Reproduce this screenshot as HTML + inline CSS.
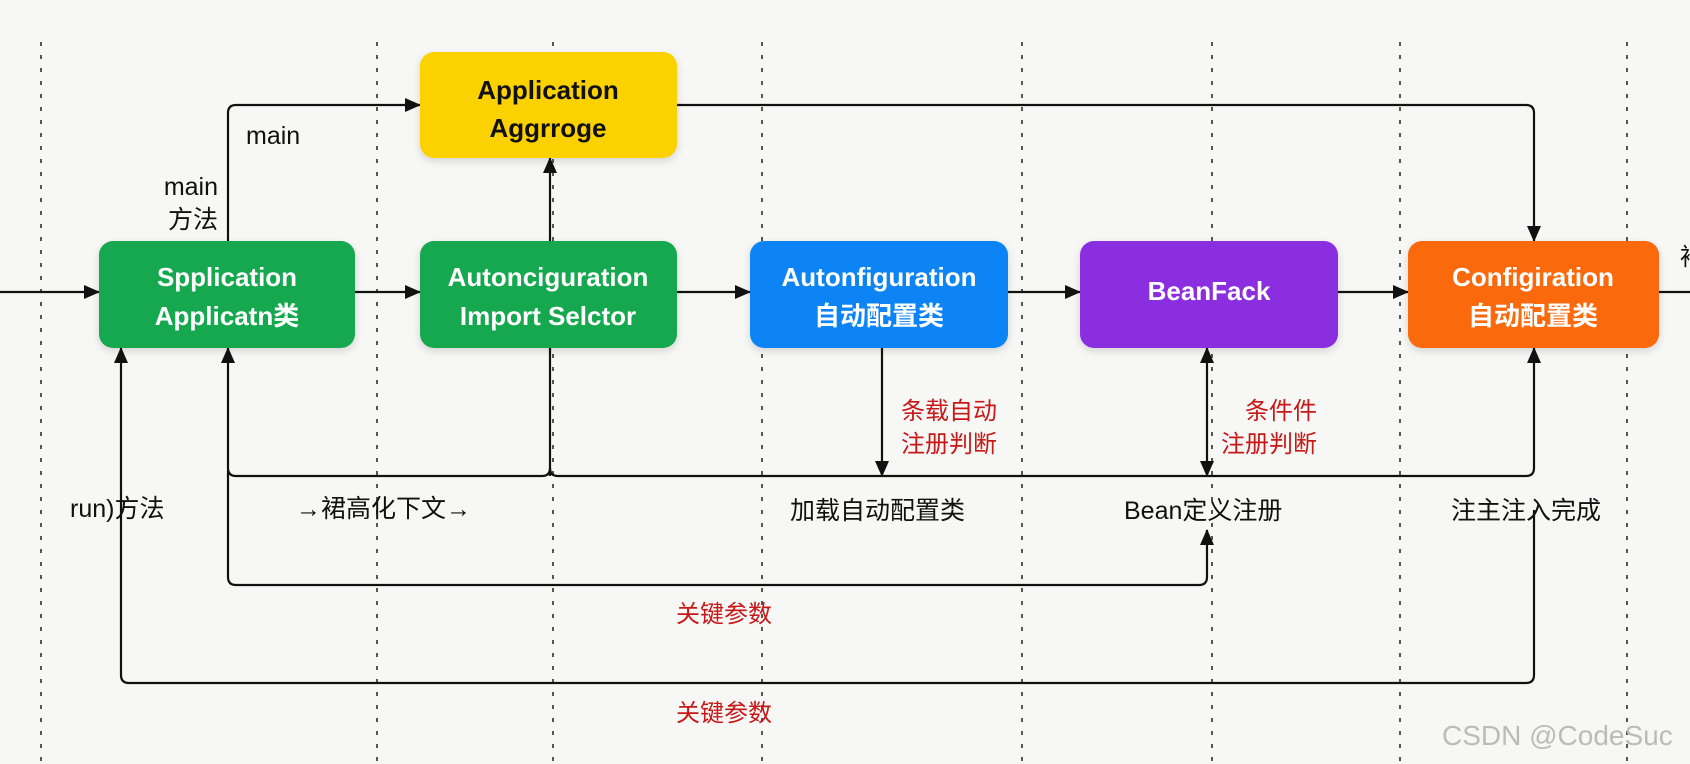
<!DOCTYPE html>
<html><head><meta charset="utf-8"><style>
html,body{margin:0;padding:0;background:#f7f7f6;}
svg{display:block;}
text{font-family:"Liberation Sans","Noto Sans CJK SC",sans-serif;}
</style></head><body>
<svg width="1690" height="764" viewBox="0 0 1690 764" xmlns="http://www.w3.org/2000/svg">
<defs>
<marker id="a" markerWidth="16" markerHeight="16" refX="15" refY="8" orient="auto" markerUnits="userSpaceOnUse"><path d="M0,1 L16,8 L0,15 Z" fill="#111"/></marker>
<marker id="b" markerWidth="16" markerHeight="16" refX="1" refY="8" orient="auto" markerUnits="userSpaceOnUse"><path d="M16,1 L0,8 L16,15 Z" fill="#111"/></marker>
<filter id="s" x="-10%" y="-10%" width="120%" height="130%"><feDropShadow dx="0" dy="3" stdDeviation="4" flood-opacity="0.15"/></filter>
</defs>
<rect width="1690" height="764" fill="#f7f7f6"/>
<g stroke="#555" stroke-width="2" stroke-dasharray="4,9">
<line x1="41" y1="42" x2="41" y2="764"/>
<line x1="377" y1="42" x2="377" y2="764"/>
<line x1="553" y1="42" x2="553" y2="764"/>
<line x1="762" y1="42" x2="762" y2="764"/>
<line x1="1022" y1="42" x2="1022" y2="764"/>
<line x1="1212" y1="42" x2="1212" y2="764"/>
<line x1="1400" y1="42" x2="1400" y2="764"/>
<line x1="1627" y1="42" x2="1627" y2="764"/>
</g>
<g stroke="#111" stroke-width="2.2" fill="none">
<line x1="0" y1="292" x2="99" y2="292" marker-end="url(#a)"/>
<line x1="355" y1="292" x2="420" y2="292" marker-end="url(#a)"/>
<line x1="677" y1="292" x2="750" y2="292" marker-end="url(#a)"/>
<line x1="1008" y1="292" x2="1080" y2="292" marker-end="url(#a)"/>
<line x1="1338" y1="292" x2="1408" y2="292" marker-end="url(#a)"/>
<line x1="1659" y1="292" x2="1690" y2="292"/>
<path d="M228 241 V113 Q228 105 236 105 H420" marker-end="url(#a)"/>
<path d="M677 105 H1526 Q1534 105 1534 113 V241" marker-end="url(#a)"/>
<line x1="550" y1="476" x2="550" y2="158" marker-end="url(#a)"/>
<path d="M228 348 V468 Q228 476 236 476 H542 Q550 476 550 468" marker-start="url(#b)"/>
<path d="M550 468 Q550 476 558 476 H1526 Q1534 476 1534 468 V348" marker-end="url(#a)"/>
<line x1="882" y1="348" x2="882" y2="476" marker-end="url(#a)"/>
<line x1="1207" y1="348" x2="1207" y2="476" marker-start="url(#b)" marker-end="url(#a)"/>
<path d="M228 470 V577 Q228 585 236 585 H1199 Q1207 585 1207 577 V530" marker-end="url(#a)"/>
<path d="M121 348 V675 Q121 683 129 683 H1526 Q1534 683 1534 675 V510" marker-start="url(#b)"/>
</g>
<g filter="url(#s)">
<rect x="420" y="52" width="257" height="106" rx="14" fill="#fbd205"/>
<rect x="99" y="241" width="256" height="107" rx="14" fill="#16a850"/>
<rect x="420" y="241" width="257" height="107" rx="14" fill="#16a850"/>
<rect x="750" y="241" width="258" height="107" rx="14" fill="#0d84f5"/>
<rect x="1080" y="241" width="258" height="107" rx="14" fill="#8a2ee0"/>
<rect x="1408" y="241" width="251" height="107" rx="14" fill="#fa6a0c"/>
</g>
<g font-size="26" text-anchor="middle" font-weight="bold">
<text x="548" y="99" fill="#111">Application</text>
<text x="548" y="137" fill="#111">Aggrroge</text>
<text x="227" y="286" fill="#fff">Spplication</text>
<text x="227" y="325" fill="#fff">Applicatn类</text>
<text x="548" y="286" fill="#fff">Autonciguration</text>
<text x="548" y="325" fill="#fff">Import Selctor</text>
<text x="879" y="286" fill="#fff">Autonfiguration</text>
<text x="879" y="325" fill="#fff">自动配置类</text>
<text x="1209" y="300" fill="#fff">BeanFack</text>
<text x="1533" y="286" fill="#fff">Configiration</text>
<text x="1533" y="325" fill="#fff">自动配置类</text>
</g>
<g font-size="25" fill="#111">
<text x="246" y="144">main</text>
<text x="218" y="195" text-anchor="end">main</text>
<text x="218" y="228" text-anchor="end">方法</text>
<text x="70" y="517">run)方法</text>
<text x="296" y="517">→裙高化下文→</text>
<text x="790" y="519">加载自动配置类</text>
<text x="1124" y="519">Bean定义注册</text>
<text x="1451" y="519">注主注入完成</text>
</g>
<g font-size="24" fill="#c81818">
<text x="901" y="419">条载自动</text>
<text x="901" y="452">注册判断</text>
<text x="1317" y="419" text-anchor="end">条件件</text>
<text x="1317" y="452" text-anchor="end">注册判断</text>
<text x="676" y="622">关键参数</text>
<text x="676" y="721">关键参数</text>
</g>
<text x="1442" y="745" font-size="28" fill="#bbb">CSDN @CodeSuc</text>
<text x="1680" y="265" font-size="24" fill="#111">袖</text>
</svg>
</body></html>
